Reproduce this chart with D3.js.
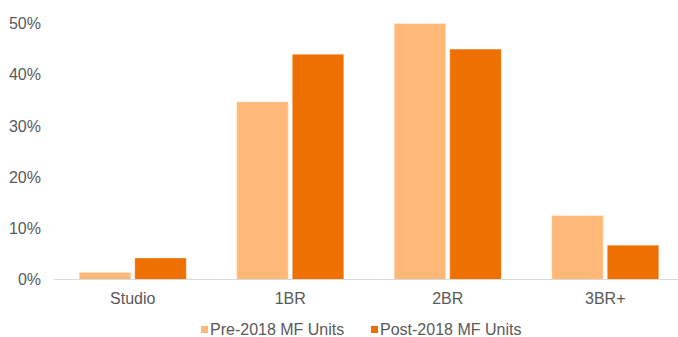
<!DOCTYPE html>
<html>
<head>
<meta charset="utf-8">
<script src="https://cdn.jsdelivr.net/npm/d3@7/dist/d3.min.js"></script>
<style>
  html, body { margin: 0; padding: 0; background: #ffffff; }
  svg { display: block; font-family: "Liberation Sans", Arial, sans-serif; }
</style>
</head>
<body>
<svg id="chart" width="678" height="337"></svg>
<script>
// Unit-mix shares by bedroom type
const categories = ["Studio", "1BR", "2BR", "3BR+"];
const seriesNames = ["Pre-2018 MF Units", "Post-2018 MF Units"];
const preValues = [0.014, 0.347, 0.500, 0.125];
const postValues = [0.042, 0.440, 0.450, 0.067];
const yTicks = [0, 0.1, 0.2, 0.3, 0.4, 0.5];
const colors = ["#FFB878", "#ED7000"];

const svg = d3.select("#chart");
const plot = { left: 54, right: 684, top: 23.5, bottom: 279.5 };

const x = d3.scaleBand()
  .domain(categories)
  .range([plot.left, plot.right])
  .paddingInner(0.32)
  .paddingOuter(0.16);

const xSub = d3.scaleBand()
  .domain(seriesNames)
  .range([0, x.bandwidth()])
  .paddingInner(0.072)
  .paddingOuter(0);

const y = d3.scaleLinear()
  .domain([0, 0.5])
  .range([plot.bottom, plot.top]);

const textColor = "#595959";

// Y axis labels
const yAxis = svg.append("g")
  .attr("transform", `translate(${plot.left},0)`)
  .call(d3.axisLeft(y).tickValues(yTicks).tickFormat(d3.format(".0%")).tickSize(0).tickPadding(13));
yAxis.select(".domain").remove();
yAxis.selectAll("text")
  .attr("fill", textColor)
  .style("font-size", "16px")
  .style("font-family", "'Liberation Sans', Arial, sans-serif");

// Bars
const rows = categories.map((c, i) => ({ cat: c, vals: [preValues[i], postValues[i]] }));
const groups = svg.append("g").selectAll("g")
  .data(rows)
  .join("g")
  .attr("transform", d => `translate(${x(d.cat)},0)`);

groups.selectAll("rect")
  .data(d => d.vals.map((v, k) => ({ name: seriesNames[k], v, k })))
  .join("rect")
  .attr("x", d => xSub(d.name))
  .attr("y", d => y(d.v))
  .attr("width", xSub.bandwidth())
  .attr("height", d => y(0) - y(d.v))
  .attr("fill", d => colors[d.k])
  .attr("stroke", "rgba(255,255,255,0.35)")
  .attr("stroke-width", 1);

// X axis baseline and labels
const xAxis = svg.append("g")
  .attr("transform", `translate(0,${plot.bottom})`)
  .call(d3.axisBottom(x).tickSize(0).tickPadding(13));
xAxis.select(".domain")
  .attr("stroke", "#D9D9D9")
  .attr("stroke-width", 1.2)
  .attr("d", `M${plot.left},0H${plot.right}`);
xAxis.selectAll("text")
  .attr("fill", textColor)
  .style("font-size", "16px")
  .style("font-family", "'Liberation Sans', Arial, sans-serif");

// Legend
const legendX = [201, 371];
const legend = svg.append("g").selectAll("g")
  .data(seriesNames)
  .join("g")
  .attr("transform", (d, i) => `translate(${legendX[i]},0)`);
legend.append("rect")
  .attr("x", 0)
  .attr("y", 326)
  .attr("width", 7)
  .attr("height", 7)
  .attr("fill", (d, i) => colors[i]);
legend.append("text")
  .attr("x", 9)
  .attr("y", 334.5)
  .attr("fill", textColor)
  .style("font-size", "16px")
  .text(d => d);
</script>
</body>
</html>
